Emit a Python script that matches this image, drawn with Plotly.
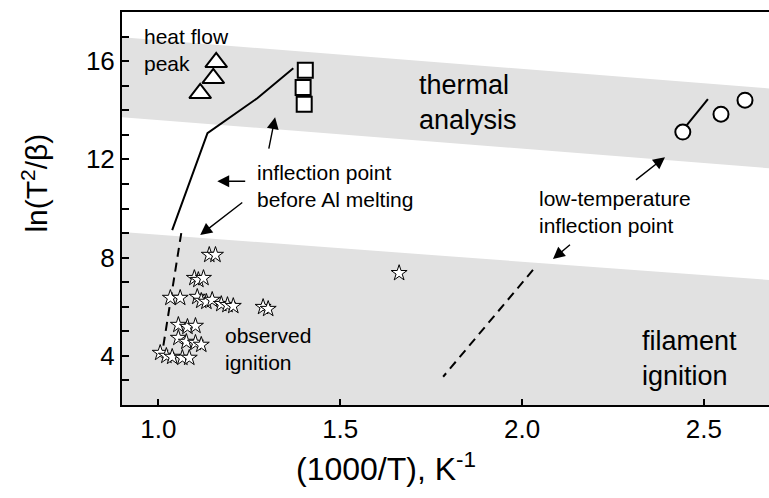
import plotly.graph_objects as go

# ---------------- data ----------------
x_range = [0.9, 2.679]
y_range = [2, 18]

band_x = [0.9, 2.679]
thermal_top = [16.97, 14.89]
thermal_bottom = [13.72, 11.64]
filament_top = [9.04, 7.09]
filament_bottom = [2, 2]

tri_x = [1.115, 1.151, 1.159]
tri_y = [14.69, 15.30, 15.95]

sq_x = [1.404, 1.398, 1.401]
sq_y = [15.63, 14.93, 14.24]

circ_x = [2.442, 2.547, 2.613]
circ_y = [13.11, 13.84, 14.41]

circ_line_x = [2.453, 2.511]
circ_line_y = [13.39, 14.45]

solid_x = [1.371, 1.272, 1.135, 1.038]
solid_y = [15.71, 14.49, 13.07, 9.12]

dash1_x = [1.063, 1.011]
dash1_y = [9.00, 4.16]

dash2_x = [2.030, 1.783]
dash2_y = [7.50, 3.15]

star_x = [1.140, 1.157, 1.099, 1.110, 1.124,
          1.033, 1.060, 1.107, 1.118, 1.132, 1.148, 1.173, 1.190, 1.206,
          1.288, 1.302, 1.662,
          1.055, 1.080, 1.102, 1.055, 1.077, 1.102, 1.118,
          1.005, 1.022, 1.038, 1.066, 1.085]
star_y = [8.11, 8.11, 7.17, 7.09, 7.17,
          6.36, 6.36, 6.40, 6.24, 6.20, 6.28, 6.11, 6.07, 6.03,
          5.99, 5.91, 7.37,
          5.26, 5.18, 5.22, 4.73, 4.57, 4.53, 4.45,
          4.12, 4.00, 3.96, 3.92, 3.92]

x_ticks = [1.0, 1.5, 2.0, 2.5]
y_ticks = [4, 8, 12, 16]

# arrows: (head_x, head_y, tail_x, tail_y)
arrows = [
    (1.321, 13.72, 1.299, 12.09),
    (1.162, 11.11, 1.247, 11.11),
    (1.115, 8.92, 1.239, 10.34),
    (2.393, 12.09, 2.305, 11.07),
    (2.085, 7.94, 2.140, 8.63),
]

# text labels: (text, x, y, size)
labels = [
    ("heat flow<br>peak", 0.956, 16.44, 21),
    ("thermal<br>analysis", 1.712, 14.33, 27),
    ("inflection point<br>before Al melting", 1.266, 10.91, 21),
    ("low-temperature<br>inflection point", 2.041, 9.85, 21),
    ("observed<br>ignition", 1.179, 4.28, 21),
    ("filament<br>ignition", 2.324, 3.88, 27),
]

FONT = "Liberation Sans, Arial, Helvetica, sans-serif"
BAND = "#e1e1e1"

fig = go.Figure()

# bands
fig.add_trace(go.Scatter(
    x=band_x + band_x[::-1], y=thermal_top + thermal_bottom[::-1],
    fill="toself", fillcolor=BAND, line=dict(width=0), mode="lines",
    hoverinfo="skip", showlegend=False))
fig.add_trace(go.Scatter(
    x=band_x + band_x[::-1], y=filament_top + filament_bottom[::-1],
    fill="toself", fillcolor=BAND, line=dict(width=0), mode="lines",
    hoverinfo="skip", showlegend=False))

# lines
fig.add_trace(go.Scatter(x=solid_x, y=solid_y, mode="lines",
                         line=dict(color="black", width=2), showlegend=False))
fig.add_trace(go.Scatter(x=circ_line_x, y=circ_line_y, mode="lines",
                         line=dict(color="black", width=2), showlegend=False))
fig.add_trace(go.Scatter(x=dash1_x, y=dash1_y, mode="lines",
                         line=dict(color="black", width=2, dash="9px,6px"),
                         showlegend=False))
fig.add_trace(go.Scatter(x=dash2_x, y=dash2_y, mode="lines",
                         line=dict(color="black", width=2, dash="9px,6px"),
                         showlegend=False))

# markers
fig.add_trace(go.Scatter(x=star_x, y=star_y, mode="markers",
                         marker=dict(symbol="star", size=12, color="white",
                                     line=dict(color="black", width=1)),
                         showlegend=False))
fig.add_trace(go.Scatter(x=tri_x, y=tri_y, mode="markers",
                         marker=dict(symbol="triangle-up", size=19, color="white",
                                     line=dict(color="black", width=2)),
                         showlegend=False))
fig.add_trace(go.Scatter(x=sq_x, y=sq_y, mode="markers",
                         marker=dict(symbol="square", size=15, color="white",
                                     line=dict(color="black", width=2)),
                         showlegend=False))
fig.add_trace(go.Scatter(x=circ_x, y=circ_y, mode="markers",
                         marker=dict(symbol="circle", size=15, color="white",
                                     line=dict(color="black", width=2)),
                         showlegend=False))

annotations = []
for hx, hy, tx, ty in arrows:
    annotations.append(dict(
        x=hx, y=hy, ax=tx, ay=ty, xref="x", yref="y", axref="x", ayref="y",
        text=" ", showarrow=True, arrowhead=2, arrowsize=1.7, arrowwidth=1.4,
        arrowcolor="black", standoff=0, startstandoff=0))
for txt, lx, ly, sz in labels:
    annotations.append(dict(
        x=lx, y=ly, xref="x", yref="y", text=txt, showarrow=False,
        xanchor="left", yanchor="middle", align="left",
        font=dict(family=FONT, size=sz, color="black")))

# axis titles
annotations.append(dict(
    x=-0.135, y=0.565, xref="paper", yref="paper",
    text="ln(T<sup>2</sup>/β)", textangle=-90, showarrow=False,
    xanchor="center", yanchor="middle",
    font=dict(family=FONT, size=30, color="black")))
annotations.append(dict(
    x=0.408, y=-0.158, xref="paper", yref="paper",
    text="(1000/T), K<sup>-1</sup>", showarrow=False,
    xanchor="center", yanchor="middle",
    font=dict(family=FONT, size=32, color="black")))

fig.update_layout(
    width=769, height=498,
    margin=dict(l=122, r=0, t=12, b=93),
    paper_bgcolor="white", plot_bgcolor="white",
    font=dict(family=FONT, color="black"),
    annotations=annotations,
    showlegend=False,
)

fig.update_xaxes(
    range=x_range, tickvals=x_ticks, ticktext=[f"{v:.1f}" for v in x_ticks],
    ticks="inside", ticklen=6, tickwidth=1.5, tickcolor="black",
    showline=True, linecolor="black", linewidth=2, mirror=True,
    showgrid=False, zeroline=False,
    tickfont=dict(family=FONT, size=26, color="black"),
)
fig.update_yaxes(
    range=y_range, tickvals=y_ticks, ticktext=[str(v) for v in y_ticks],
    ticks="inside", ticklen=7, tickwidth=1.5, tickcolor="black",
    minor=dict(dtick=1, tick0=0, ticks="inside", ticklen=7, tickwidth=1.5,
               tickcolor="black", showgrid=False),
    showline=True, linecolor="black", linewidth=2, mirror=False,
    showgrid=False, zeroline=False,
    tickfont=dict(family=FONT, size=26, color="black"),
)

fig.write_html("out.html")
